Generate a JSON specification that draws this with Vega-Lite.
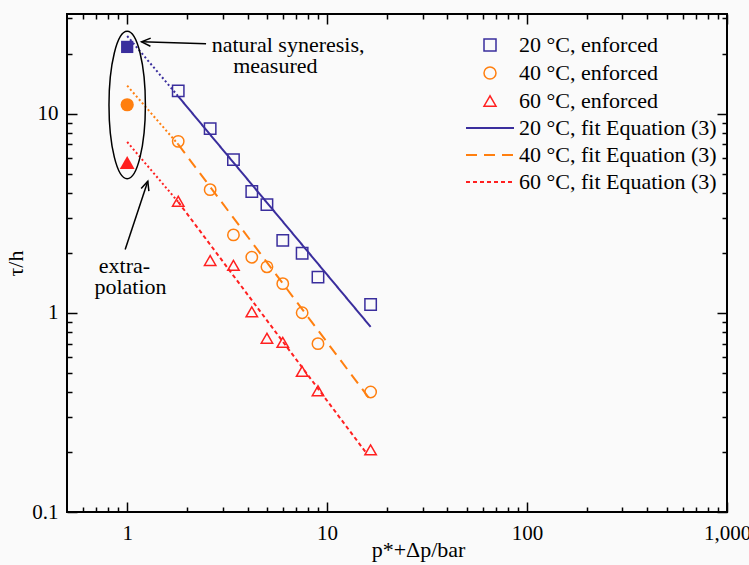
{
  "$schema": "https://vega.github.io/schema/vega-lite/v6.json",
  "width": 660,
  "height": 498,
  "autosize": {"type": "none"},
  "padding": {"left": 67, "top": 14, "right": 22, "bottom": 53},
  "background": "#fafafa",
  "config": {
    "view": {"stroke": "#000000", "strokeWidth": 2},
    "font": "Liberation Serif",
    "axis": {
      "domain": false, "grid": false, "tickColor": "#000000", "tickWidth": 1.5,
      "labelFont": "Liberation Serif", "labelFontSize": 21, "labelColor": "#000000",
      "titleFont": "Liberation Serif", "titleFontSize": 22, "titleFontWeight": "normal", "titleColor": "#000000",
      "labelFlush": false, "labelOverlap": false
    }
  },
  "datasets": {
    "enforced": [
      {"series": "20 °C, enforced", "x": 1.8, "y": 13.0},
      {"series": "20 °C, enforced", "x": 2.6, "y": 8.4},
      {"series": "20 °C, enforced", "x": 3.4, "y": 5.87},
      {"series": "20 °C, enforced", "x": 4.2, "y": 4.06},
      {"series": "20 °C, enforced", "x": 5.0, "y": 3.49},
      {"series": "20 °C, enforced", "x": 6.0, "y": 2.31},
      {"series": "20 °C, enforced", "x": 7.5, "y": 1.99},
      {"series": "20 °C, enforced", "x": 9.0, "y": 1.51},
      {"series": "20 °C, enforced", "x": 16.5, "y": 1.10},
      {"series": "40 °C, enforced", "x": 1.8, "y": 7.25},
      {"series": "40 °C, enforced", "x": 2.6, "y": 4.15},
      {"series": "40 °C, enforced", "x": 3.4, "y": 2.46},
      {"series": "40 °C, enforced", "x": 4.2, "y": 1.90},
      {"series": "40 °C, enforced", "x": 5.0, "y": 1.70},
      {"series": "40 °C, enforced", "x": 6.0, "y": 1.40},
      {"series": "40 °C, enforced", "x": 7.5, "y": 1.0},
      {"series": "40 °C, enforced", "x": 9.0, "y": 0.70},
      {"series": "40 °C, enforced", "x": 16.5, "y": 0.40},
      {"series": "60 °C, enforced", "x": 1.8, "y": 3.63},
      {"series": "60 °C, enforced", "x": 2.6, "y": 1.83},
      {"series": "60 °C, enforced", "x": 3.4, "y": 1.73},
      {"series": "60 °C, enforced", "x": 4.2, "y": 1.01},
      {"series": "60 °C, enforced", "x": 5.0, "y": 0.745},
      {"series": "60 °C, enforced", "x": 6.0, "y": 0.71},
      {"series": "60 °C, enforced", "x": 7.5, "y": 0.508},
      {"series": "60 °C, enforced", "x": 9.0, "y": 0.406},
      {"series": "60 °C, enforced", "x": 16.5, "y": 0.205}
    ],
    "nat20": [{"series": "20 °C, natural", "x": 1, "y": 21.6}],
    "nat40": [{"series": "40 °C, natural", "x": 1, "y": 11.07}],
    "nat60": [{"series": "60 °C, natural", "x": 1, "y": 5.68}],
    "extrap": [
      {"series": "20 °C, enforced", "x": 1, "y": 24.5},
      {"series": "20 °C, enforced", "x": 1.8, "y": 12.2},
      {"series": "40 °C, enforced", "x": 1, "y": 13.8},
      {"series": "40 °C, enforced", "x": 1.8, "y": 7.0},
      {"series": "60 °C, enforced", "x": 1, "y": 7.2},
      {"series": "60 °C, enforced", "x": 1.8, "y": 3.6}
    ],
    "fits": [
      {"fit": "20 °C, fit Equation (3)", "x": 1.8, "y": 12.2},
      {"fit": "20 °C, fit Equation (3)", "x": 16.5, "y": 0.85},
      {"fit": "40 °C, fit Equation (3)", "x": 1.8, "y": 7.0},
      {"fit": "40 °C, fit Equation (3)", "x": 16.3, "y": 0.37},
      {"fit": "60 °C, fit Equation (3)", "x": 1.8, "y": 3.6},
      {"fit": "60 °C, fit Equation (3)", "x": 15.8, "y": 0.196}
    ],
    "ellipse": [{"x": 1, "y": 11.03}],
    "shafts": [
      {"x": 2.48, "y": 22.4, "x2": 1.18, "y2": 22.9},
      {"x": 0.977, "y": 2.08, "x2": 1.268, "y2": 4.57}
    ],
    "head1": [{"x": 1.18, "y": 22.9}],
    "head2": [{"x": 1.268, "y": 4.57}],
    "notes": [
      {"x": 6.38, "y": 20.46, "label": "natural syneresis,"},
      {"x": 5.51, "y": 15.95, "label": "measured"},
      {"x": 0.969, "y": 1.59, "label": "extra-"},
      {"x": 1.039, "y": 1.238, "label": "polation"}
    ]
  },
  "layer": [
    {
      "data": {"name": "enforced"},
      "mark": {"type": "point", "filled": false, "strokeWidth": 1.5, "size": 130, "opacity": 1},
      "encoding": {
        "x": {
          "field": "x", "type": "quantitative",
          "scale": {"type": "log", "domain": [0.5, 1000], "nice": false},
          "axis": {
            "orient": "bottom",
            "values": [0.6, 0.7, 0.8, 0.9, 1, 2, 3, 4, 5, 6, 7, 8, 9, 10, 20, 30, 40, 50, 60, 70, 80, 90, 100, 200, 300, 400, 500, 600, 700, 800, 900, 1000],
            "labelExpr": "datum.value == 1 ? '1' : datum.value == 10 ? '10' : datum.value == 100 ? '100' : datum.value == 1000 ? '1,000' : ''",
            "tickSize": {"condition": {"test": "datum.value == 1 || datum.value == 10 || datum.value == 100 || datum.value == 1000", "value": -10}, "value": -5},
            "labelPadding": 20,
            "title": "p*+Δp/bar",
            "titleX": 351, "titleY": 44.5, "titleAlign": "center", "titleBaseline": "alphabetic"
          }
        },
        "y": {
          "field": "y", "type": "quantitative",
          "scale": {"type": "log", "domain": [0.1, 31.6], "nice": false},
          "axis": {
            "orient": "left",
            "values": [0.1, 0.2, 0.3, 0.4, 0.5, 0.6, 0.7, 0.8, 0.9, 1, 2, 3, 4, 5, 6, 7, 8, 9, 10, 20, 30],
            "labelExpr": "datum.value == 0.1 ? '0.1' : datum.value == 1 ? '1' : datum.value == 10 ? '10' : ''",
            "tickSize": {"condition": {"test": "datum.value == 0.1 || datum.value == 1 || datum.value == 10", "value": -10}, "value": -5},
            "labelPadding": 19,
            "title": "τ/h",
            "titleX": -52, "titleY": 249, "titleAngle": -90, "titleAlign": "center", "titleBaseline": "middle"
          }
        },
        "color": {
          "field": "series", "type": "nominal",
          "scale": {"domain": ["20 °C, enforced", "40 °C, enforced", "60 °C, enforced"], "range": ["#3a2e9d", "#ff7f0f", "#ff2020"]},
          "legend": {
            "orient": "none", "legendX": 412, "legendY": 20, "title": null, "padding": 0,
            "rowPadding": 6, "labelOffset": 18, "labelFont": "Liberation Serif", "labelFontSize": 22,
            "labelColor": "#000000", "labelLimit": 400, "symbolSize": 144, "symbolStrokeWidth": 1.5
          }
        },
        "shape": {
          "field": "series", "type": "nominal",
          "scale": {"domain": ["20 °C, enforced", "40 °C, enforced", "60 °C, enforced"], "range": ["square", "circle", "triangle-up"]}
        }
      }
    },
    {
      "data": {"name": "nat20"},
      "mark": {"type": "point", "shape": "square", "filled": true, "size": 150, "opacity": 1, "color": "#3a2e9d"},
      "encoding": {
        "x": {"field": "x", "type": "quantitative", "axis": null},
        "y": {"field": "y", "type": "quantitative", "axis": null}
      }
    },
    {
      "data": {"name": "nat40"},
      "mark": {"type": "point", "shape": "circle", "filled": true, "size": 175, "opacity": 1, "color": "#ff7f0f"},
      "encoding": {
        "x": {"field": "x", "type": "quantitative", "axis": null},
        "y": {"field": "y", "type": "quantitative", "axis": null}
      }
    },
    {
      "data": {"name": "nat60"},
      "mark": {"type": "point", "shape": "triangle-up", "filled": true, "size": 220, "opacity": 1, "color": "#ff2020"},
      "encoding": {
        "x": {"field": "x", "type": "quantitative", "axis": null},
        "y": {"field": "y", "type": "quantitative", "axis": null}
      }
    },
    {
      "data": {"name": "extrap"},
      "mark": {"type": "line", "strokeWidth": 2, "strokeDash": [2, 2.5]},
      "encoding": {
        "x": {"field": "x", "type": "quantitative", "axis": null},
        "y": {"field": "y", "type": "quantitative", "axis": null},
        "color": {"field": "series", "type": "nominal", "legend": null}
      }
    },
    {
      "data": {"name": "fits"},
      "mark": {"type": "line", "strokeWidth": 2},
      "encoding": {
        "x": {
          "field": "x", "type": "quantitative",
          "axis": {
            "orient": "top", "labels": false, "title": null,
            "values": [0.6, 0.7, 0.8, 0.9, 1, 2, 3, 4, 5, 6, 7, 8, 9, 10, 20, 30, 40, 50, 60, 70, 80, 90, 100, 200, 300, 400, 500, 600, 700, 800, 900, 1000],
            "tickSize": {"condition": {"test": "datum.value == 1 || datum.value == 10 || datum.value == 100 || datum.value == 1000", "value": -10}, "value": -5}
          }
        },
        "y": {
          "field": "y", "type": "quantitative",
          "axis": {
            "orient": "right", "labels": false, "title": null,
            "values": [0.1, 0.2, 0.3, 0.4, 0.5, 0.6, 0.7, 0.8, 0.9, 1, 2, 3, 4, 5, 6, 7, 8, 9, 10, 20, 30],
            "tickSize": {"condition": {"test": "datum.value == 0.1 || datum.value == 1 || datum.value == 10", "value": -10}, "value": -5}
          }
        },
        "stroke": {
          "field": "fit", "type": "nominal",
          "scale": {"domain": ["20 °C, fit Equation (3)", "40 °C, fit Equation (3)", "60 °C, fit Equation (3)"], "range": ["#3a2e9d", "#ff7f0f", "#ff2020"]},
          "legend": {
            "orient": "none", "legendX": 412, "legendY": 103, "title": null, "padding": 0,
            "rowPadding": 5, "labelOffset": 18, "labelFont": "Liberation Serif", "labelFontSize": 22,
            "labelColor": "#000000", "labelLimit": 400, "symbolType": "M-4,0H4", "symbolSize": 144, "symbolStrokeWidth": 2
          }
        },
        "strokeDash": {
          "field": "fit", "type": "nominal",
          "scale": {"domain": ["20 °C, fit Equation (3)", "40 °C, fit Equation (3)", "60 °C, fit Equation (3)"], "range": [[1, 0], [11, 7], [4, 3]]}
        }
      }
    },
    {
      "data": {"name": "ellipse"},
      "mark": {"type": "point", "shape": "M0,-1C0.1364,-1,0.247,-0.5523,0.247,0C0.247,0.5523,0.1364,1,0,1C-0.1364,1,-0.247,0.5523,-0.247,0C-0.247,-0.5523,-0.1364,-1,0,-1Z", "filled": false, "size": 21727, "strokeWidth": 1.5, "color": "#000000", "opacity": 1},
      "encoding": {
        "x": {"field": "x", "type": "quantitative", "axis": null},
        "y": {"field": "y", "type": "quantitative", "axis": null}
      }
    },
    {
      "data": {"name": "shafts"},
      "mark": {"type": "rule", "color": "#000000", "strokeWidth": 1.5},
      "encoding": {
        "x": {"field": "x", "type": "quantitative", "axis": null},
        "y": {"field": "y", "type": "quantitative", "axis": null},
        "x2": {"field": "x2"},
        "y2": {"field": "y2"}
      }
    },
    {
      "data": {"name": "head1"},
      "mark": {"type": "point", "shape": "M-1,-0.45L0,0L-1,0.45", "filled": false, "size": 324, "strokeWidth": 1.5, "color": "#000000", "opacity": 1, "angle": 182},
      "encoding": {
        "x": {"field": "x", "type": "quantitative", "axis": null},
        "y": {"field": "y", "type": "quantitative", "axis": null}
      }
    },
    {
      "data": {"name": "head2"},
      "mark": {"type": "point", "shape": "M-1,-0.45L0,0L-1,0.45", "filled": false, "size": 324, "strokeWidth": 1.5, "color": "#000000", "opacity": 1, "angle": 288},
      "encoding": {
        "x": {"field": "x", "type": "quantitative", "axis": null},
        "y": {"field": "y", "type": "quantitative", "axis": null}
      }
    },
    {
      "data": {"name": "notes"},
      "mark": {"type": "text", "font": "Liberation Serif", "fontSize": 22, "align": "center", "baseline": "alphabetic", "color": "#000000"},
      "encoding": {
        "x": {"field": "x", "type": "quantitative", "axis": null},
        "y": {"field": "y", "type": "quantitative", "axis": null},
        "text": {"field": "label", "type": "nominal"}
      }
    }
  ],
  "resolve": {"axis": {"x": "independent", "y": "independent"}}
}
